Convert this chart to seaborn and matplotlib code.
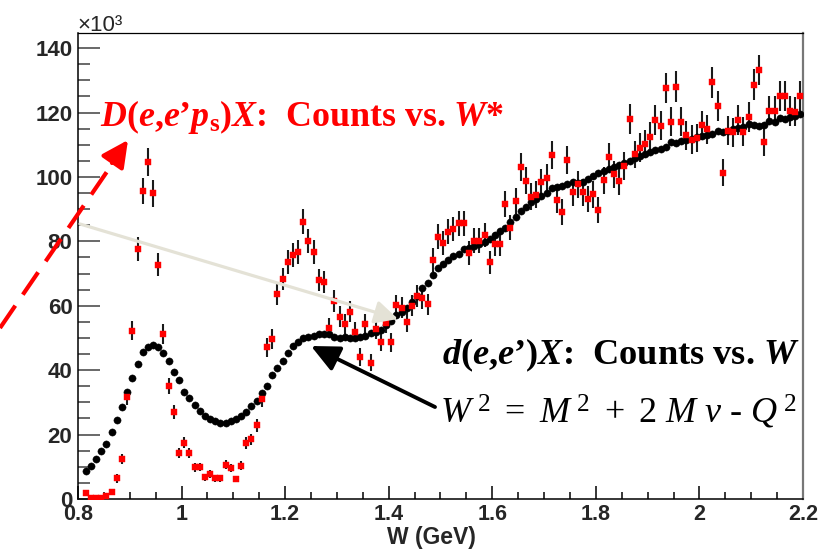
import numpy as np
import pandas as pd
import matplotlib
matplotlib.use("Agg")
import matplotlib.pyplot as plt
from matplotlib.lines import Line2D
from matplotlib.ticker import MultipleLocator
import seaborn as sns

# ---------------- data (counts in units of 10^3) ----------------
W_BINS = np.round(np.arange(0.815, 2.2, 0.01), 3)   # bin centres, GeV

D_EEPS = [  # D(e,e'p_s)X counts vs W*  (red)
    1.8, 0.3, 0.4, 0.4, 0.9, 2.3, 6.4, 12.5, 31.6, 52.3,
    77.5, 95.7, 104.6, 94.9, 72.7, 51.2, 35.1, 27.0, 14.2, 17.5,
    14.2, 9.8, 10.0, 6.7, 7.8, 6.4, 6.4, 10.7, 9.6, 6.2,
    10.4, 17.3, 18.5, 22.9, 31.0, 47.1, 49.7, 63.6, 68.3, 73.6,
    75.8, 76.8, 86.1, 80.1, 76.6, 68.0, 67.3, 53.0, 61.5, 56.6,
    54.2, 58.2, 52.0, 44.0, 54.2, 42.3, 52.7, 48.9, 54.5, 48.6,
    60.2, 59.4, 54.9, 60.0, 63.0, 62.3, 60.5, 74.2, 81.5, 79.4,
    83.0, 83.9, 85.6, 85.6, 76.3, 80.2, 80.2, 82.0, 73.5, 79.1,
    79.1, 91.6, 84.3, 92.6, 103.0, 98.8, 93.9, 94.5, 98.4, 99.8,
    106.8, 92.9, 89.0, 105.3, 95.2, 97.7, 95.2, 93.1, 94.6, 89.8,
    98.9, 106.3, 100.8, 98.6, 103.4, 117.9, 107.0, 109.1, 110.2, 112.5,
    117.7, 115.9, 127.6, 117.2, 128.0, 117.2, 113.0, 111.6, 112.0, 116.1,
    114.8, 129.4, 122.0, 101.3, 114.4, 113.9, 117.7, 114.1, 118.7, 128.6,
    133.2, 111.0, 120.6, 120.6, 125.2, 125.2, 120.5, 120.3, 125.2,
]

D_EEPS_ERR = [
    0.6, 0.3, 0.3, 0.3, 0.5, 0.7, 1.3, 1.6, 2.4, 3.0,
    3.7, 4.1, 4.3, 4.1, 3.6, 3.0, 2.5, 2.2, 1.6, 1.8,
    1.6, 1.3, 1.3, 1.1, 1.2, 1.1, 1.1, 1.4, 1.3, 1.0,
    1.4, 1.8, 1.8, 2.0, 2.3, 2.9, 3.0, 3.3, 3.5, 3.6,
    3.7, 3.7, 3.9, 3.8, 3.7, 3.5, 3.4, 3.1, 3.3, 3.2,
    3.1, 3.2, 3.0, 2.8, 3.1, 2.7, 3.0, 2.9, 3.1, 2.9,
    3.3, 3.2, 3.1, 3.3, 3.3, 3.3, 3.3, 3.6, 3.8, 3.7,
    3.8, 3.8, 3.9, 3.9, 3.7, 3.8, 3.8, 3.8, 3.6, 3.7,
    3.7, 4.0, 3.9, 4.0, 4.3, 4.2, 4.1, 4.1, 4.2, 4.2,
    4.3, 4.0, 4.0, 4.3, 4.1, 4.2, 4.1, 4.1, 4.1, 4.0,
    4.2, 4.3, 4.2, 4.2, 4.3, 4.6, 4.3, 4.4, 4.4, 4.5,
    4.6, 4.5, 4.7, 4.5, 4.8, 4.5, 4.5, 4.4, 4.4, 4.5,
    4.5, 4.8, 4.6, 4.2, 4.5, 4.5, 4.6, 4.5, 4.6, 4.8,
    4.8, 4.4, 4.6, 4.6, 4.7, 4.7, 4.6, 4.6, 4.7,
]

D_EE = [  # d(e,e')X counts vs W  (black)
    8.7, 10.3, 12.3, 14.9, 17.1, 20.7, 24.5, 28.7, 33.2, 37.5,
    41.9, 45.6, 47.1, 47.9, 47.3, 45.2, 42.8, 39.3, 37.0, 33.2,
    31.4, 29.1, 27.4, 25.8, 24.7, 24.2, 23.5, 23.5, 24.3, 24.9,
    25.7, 27.1, 28.8, 30.5, 32.9, 35.2, 38.4, 40.7, 43.0, 45.2,
    47.5, 48.7, 50.0, 50.2, 50.6, 51.2, 51.1, 51.2, 50.4, 50.1,
    50.4, 50.1, 49.9, 50.4, 50.7, 51.5, 52.0, 52.5, 54.0, 55.3,
    57.1, 58.2, 59.2, 61.3, 63.0, 65.4, 67.2, 69.6, 71.6, 73.0,
    74.2, 75.3, 76.0, 77.7, 78.0, 78.6, 79.1, 79.9, 80.8, 82.0,
    83.2, 84.1, 86.1, 87.5, 89.5, 90.6, 92.3, 93.1, 94.1, 95.1,
    96.5, 96.8, 97.2, 97.7, 98.4, 98.2, 98.5, 99.5, 100.4, 101.1,
    101.9, 102.5, 103.0, 103.6, 104.2, 105.1, 106.0, 106.5, 107.1, 107.9,
    108.4, 108.7, 109.2, 110.7, 110.5, 111.2, 111.5, 111.7, 112.3, 112.8,
    113.0, 113.3, 114.4, 113.9, 114.4, 114.8, 115.1, 115.4, 116.5, 116.1,
    115.8, 116.1, 117.4, 117.0, 118.2, 118.0, 118.7, 118.9, 119.6,
]

X_TICKS = [0.8, 1.0, 1.2, 1.4, 1.6, 1.8, 2.0, 2.2]
X_TICK_LABELS = ["0.8", "1", "1.2", "1.4", "1.6", "1.8", "2", "2.2"]
Y_TICKS = [0, 20, 40, 60, 80, 100, 120, 140]
Y_TICK_LABELS = ["0", "20", "40", "60", "80", "100", "120", "140"]

df = pd.DataFrame({"W": W_BINS, "red": D_EEPS, "err": D_EEPS_ERR, "black": D_EE})

# ---------------- style ----------------
sns.set_style("ticks")
plt.rcParams["font.family"] = ["Liberation Sans", "DejaVu Sans"]
plt.rcParams["mathtext.fontset"] = "custom"
plt.rcParams["mathtext.rm"] = "Liberation Serif"
plt.rcParams["mathtext.it"] = "Liberation Serif:italic"
plt.rcParams["mathtext.bf"] = "Liberation Serif:bold"
plt.rcParams["mathtext.bfit"] = "Liberation Serif:italic:bold"

W_PX, H_PX = 820, 549
fig = plt.figure(figsize=(W_PX / 100, H_PX / 100), dpi=100)
ax = fig.add_axes([78 / W_PX, 50 / H_PX, 725 / W_PX, 466 / H_PX])

# error bars (behind markers)
ax.errorbar(df["W"], df["red"], yerr=df["err"], fmt="none",
            ecolor="#1a1a1a", elinewidth=1.5, capsize=0, zorder=2)
sns.scatterplot(data=df, x="W", y="black", ax=ax, marker="o", s=27,
                color="black", edgecolor="black", linewidth=0.3, zorder=3)
sns.scatterplot(data=df, x="W", y="red", ax=ax, marker="s", s=19,
                color="#ff0000", edgecolor="#ff0000", linewidth=0.3, zorder=4)

ax.set_xlim(0.8, 2.2)
ax.set_ylim(0, 144.7)
ax.set_xticks(X_TICKS)
ax.set_xticklabels(X_TICK_LABELS)
ax.set_yticks(Y_TICKS)
ax.set_yticklabels(Y_TICK_LABELS)
ax.xaxis.set_minor_locator(MultipleLocator(0.05))
ax.yaxis.set_minor_locator(MultipleLocator(5))

ax.tick_params(axis="y", which="major", direction="in", length=15.5, width=1.1,
               color="#404040", pad=4.0, labelsize=16)
ax.tick_params(axis="y", which="minor", direction="in", length=8.5, width=1.1,
               color="#404040")
ax.tick_params(axis="x", which="major", direction="in", length=9.5, width=1.1,
               color="black", pad=3.5, labelsize=15.5)
ax.tick_params(axis="x", which="minor", direction="in", length=5.2, width=1.1,
               color="black")
for lab in ax.get_xticklabels() + ax.get_yticklabels():
    lab.set_fontweight("bold")

ax.set_xlabel("W (GeV)", fontsize=16.5, fontweight="bold")
ax.xaxis.set_label_coords(0.487, -0.057)
ax.xaxis.label.set_va("top")
ax.set_ylabel("")

for side in ["left", "bottom", "top"]:
    ax.spines[side].set_color("black")
    ax.spines[side].set_linewidth(1.1)
ax.spines["right"].set_color("#777777")
ax.spines["right"].set_linewidth(1.6)
ax.spines["top"].set_linewidth(0.9)

# ---------------- annotations (figure pixel coordinates, origin top-left) ----
def fp(x, y):
    return (x / W_PX, 1 - y / H_PX)

fig.text(*fp(77, 31), "×10³", fontsize=16, va="baseline", ha="left",
         family="Liberation Sans")

fig.text(*fp(100, 126),
         r"$\mathbfit{D}\mathbf{(}\mathbfit{e}\mathbf{,}\mathbfit{e}$’"
         r"$\mathbfit{p}_{\mathbf{s}}\mathbf{)}\mathbfit{X}$:  Counts vs. $\mathbfit{W}$*",
         color="#ff0000", fontsize=25.8, family="Liberation Serif", fontweight="bold",
         va="baseline", ha="left")

fig.text(*fp(442, 364),
         r"$\mathbfit{d}\mathbf{(}\mathbfit{e}\mathbf{,}\mathbfit{e}$’"
         r"$\mathbf{)}\mathbfit{X}$:  Counts vs. $\mathbfit{W}$",
         color="black", fontsize=26.2, family="Liberation Serif", fontweight="bold",
         va="baseline", ha="left")

fig.text(*fp(440, 423),
         r"$W^{\;2}\ =\ M^{\;2}\ +\ 2\ M\ \nu$ - $Q^{\;2}$",
         color="black", fontsize=26, family="Liberation Serif",
         va="baseline", ha="left")

# red dashed arrow
dash = Line2D([0 / W_PX, 117 / W_PX], [1 - 328 / H_PX, 1 - 157 / H_PX],
              transform=fig.transFigure, color="#ff0000", lw=3.0,
              linestyle=(0, (6.5, 3.2)), solid_capstyle="butt", dash_capstyle="butt")
fig.add_artist(dash)
ax.annotate("", xy=fp(128, 140), xytext=fp(112, 163), xycoords="figure fraction",
            textcoords="figure fraction", annotation_clip=False,
            arrowprops=dict(arrowstyle="-|>,head_length=0.8,head_width=0.4",
                            color="#ff0000", lw=3.0, mutation_scale=20,
                            shrinkA=0, shrinkB=0))

# light grey arrow
ax.annotate("", xy=fp(398, 319), xytext=fp(80, 224), xycoords="figure fraction",
            textcoords="figure fraction", annotation_clip=False,
            arrowprops=dict(arrowstyle="-|>,head_length=0.7,head_width=0.35",
                            color="#e4e2d6", lw=2.3, mutation_scale=20,
                            shrinkA=0, shrinkB=0), zorder=5)

# black arrow
ax.annotate("", xy=fp(311, 346), xytext=fp(435, 407), xycoords="figure fraction",
            textcoords="figure fraction", annotation_clip=False,
            arrowprops=dict(arrowstyle="-|>,head_length=0.85,head_width=0.4",
                            color="black", lw=2.8, mutation_scale=20,
                            shrinkA=0, shrinkB=0), zorder=6)

fig.savefig("out.png", dpi=100)
